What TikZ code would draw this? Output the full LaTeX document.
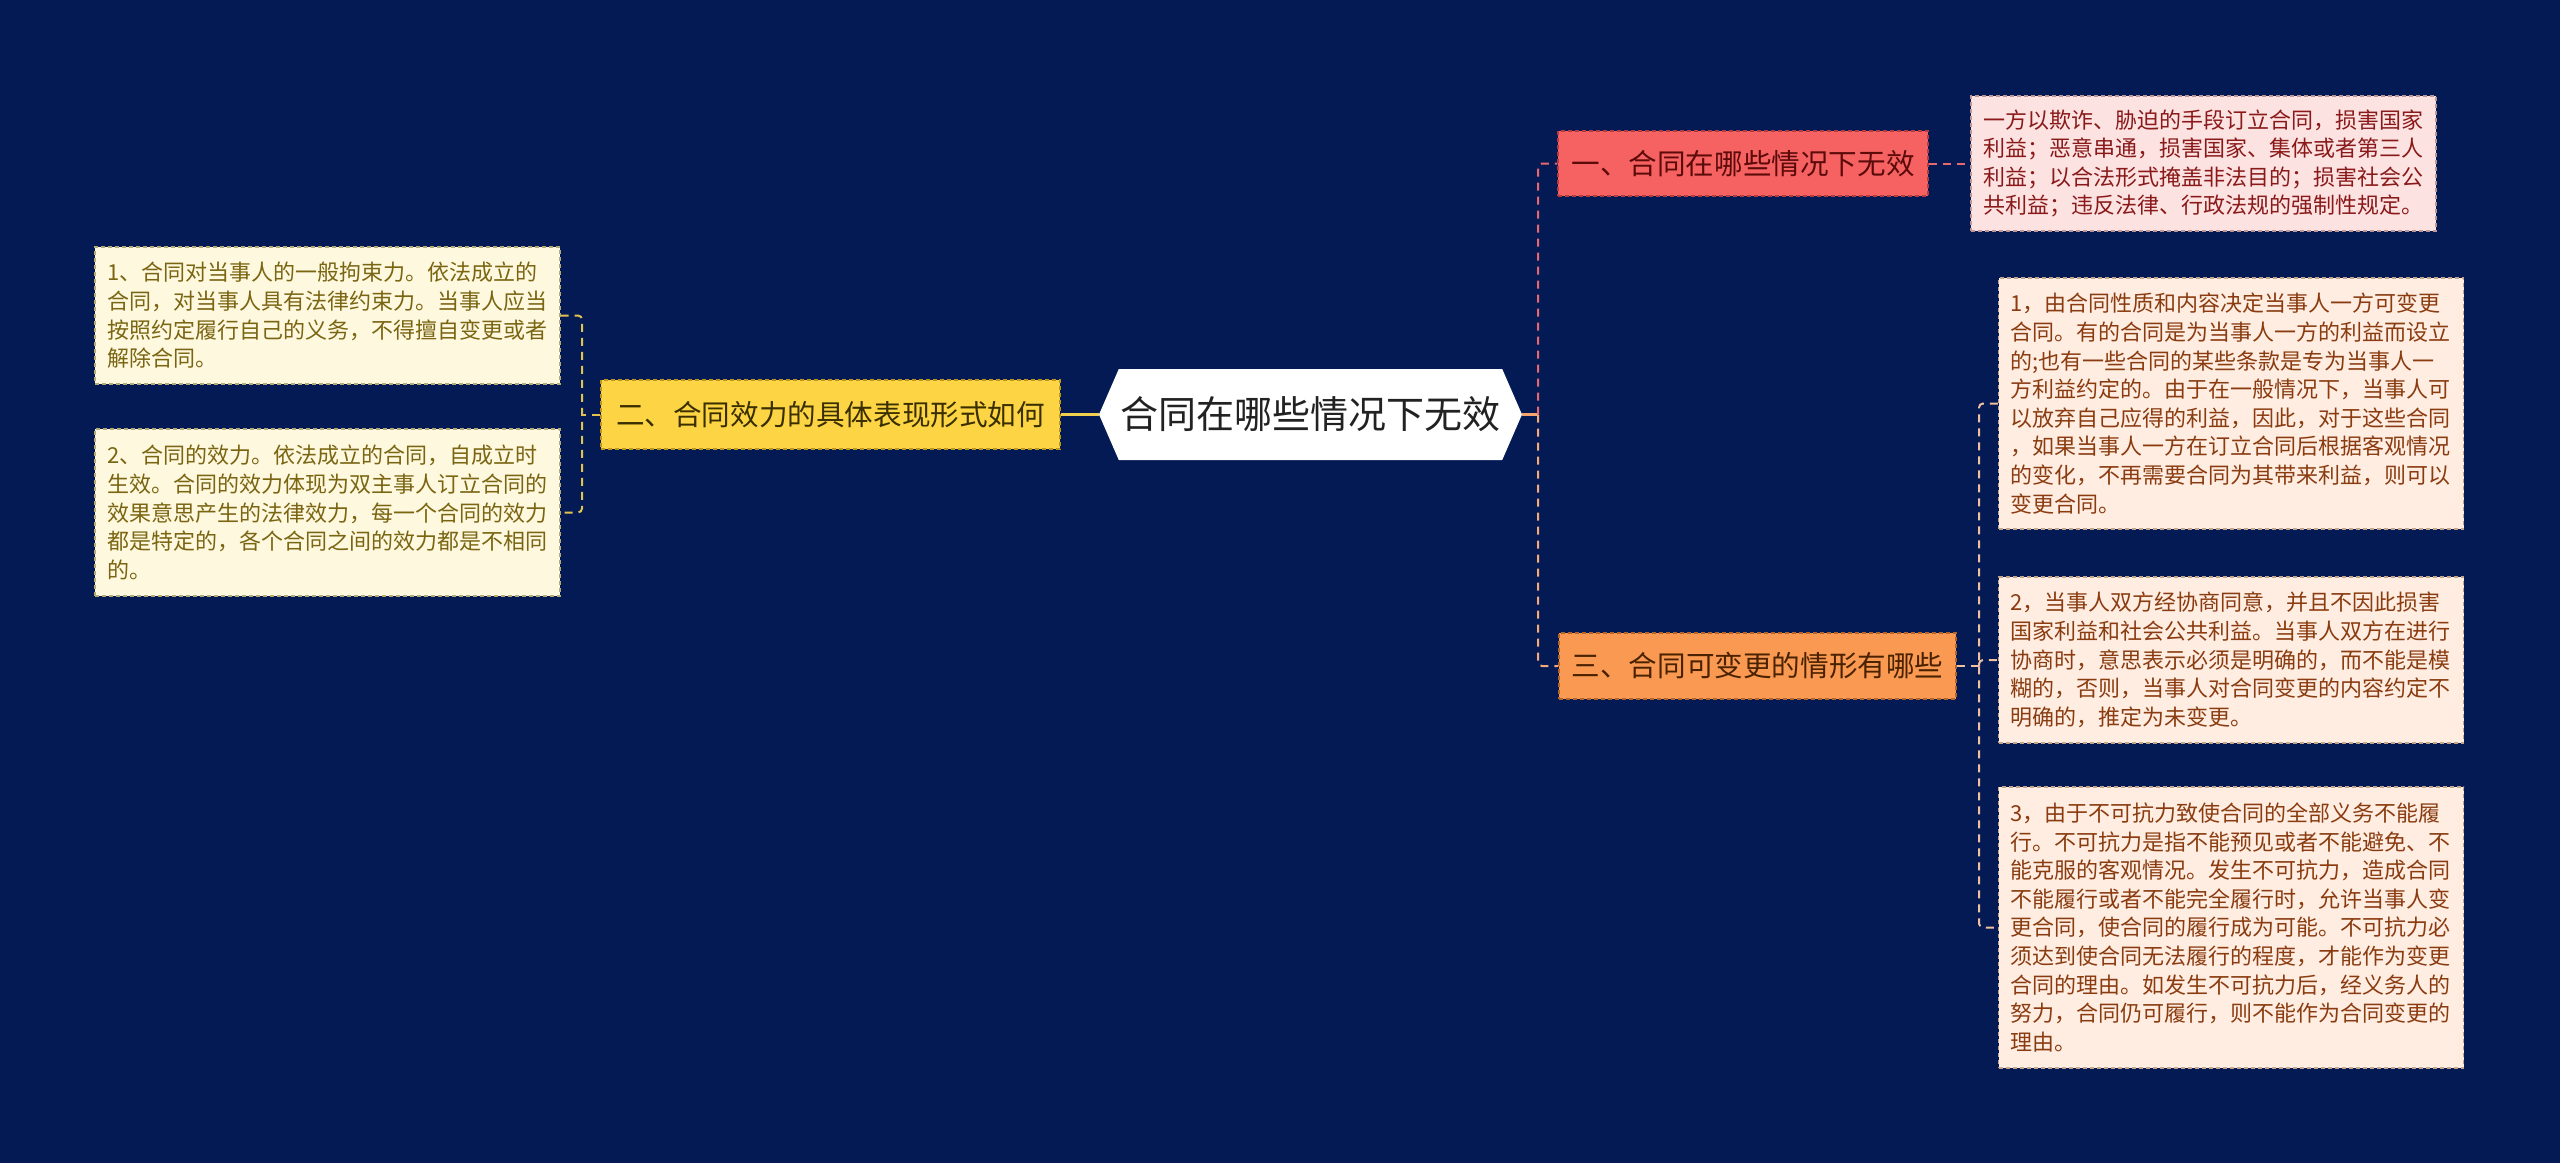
\documentclass[tikz,border=0pt]{standalone}
\usepackage{fontspec}
\setmainfont{Noto Sans CJK SC}
\usetikzlibrary{shapes.symbols}
\definecolor{bg}{RGB}{4,26,84}
\definecolor{cenText}{RGB}{34,34,34}
\definecolor{yFill}{RGB}{253,213,68}
\definecolor{yBorder}{RGB}{190,150,30}
\definecolor{yText}{RGB}{58,47,0}
\definecolor{lFill}{RGB}{254,248,222}
\definecolor{lBorder}{RGB}{180,170,120}
\definecolor{lText}{RGB}{122,101,18}
\definecolor{rFill}{RGB}{246,98,98}
\definecolor{rBorder}{RGB}{180,60,60}
\definecolor{rText}{RGB}{92,10,10}
\definecolor{prFill}{RGB}{253,226,226}
\definecolor{prBorder}{RGB}{190,150,150}
\definecolor{prText}{RGB}{138,26,26}
\definecolor{oFill}{RGB}{250,154,82}
\definecolor{oBorder}{RGB}{180,100,40}
\definecolor{oText}{RGB}{74,34,0}
\definecolor{poFill}{RGB}{255,237,226}
\definecolor{poBorder}{RGB}{195,165,140}
\definecolor{poText}{RGB}{138,60,16}
\definecolor{yLine}{RGB}{242,208,79}
\definecolor{yDash}{RGB}{226,194,80}
\definecolor{rDash}{RGB}{232,104,112}
\definecolor{oLine}{RGB}{245,164,112}
\definecolor{oDash}{RGB}{245,170,120}
\definecolor{pDash}{RGB}{240,192,160}
\tikzset{
  nodeborder/.style={dash pattern=on 2pt off 1.5pt, line width=0.6pt},
  leafbox/.style={nodeborder, align=left, text width=220.5pt, inner xsep=6pt, inner ysep=4pt,
    font=\fontsize{11pt}{14.3pt}\selectfont},
  leafL/.style={leafbox, draw=lBorder, fill=lFill, text=lText},
  leafPR/.style={leafbox, draw=prBorder, fill=prFill, text=prText},
  leafPO/.style={leafbox, draw=poBorder, fill=poFill, text=poText},
  branch/.style={nodeborder, align=center, inner sep=0pt, font=\fontsize{14.3pt}{17pt}\selectfont},
  centre/.style={signal, signal to=west and east, signal pointer angle=133, fill=white, text=cenText,
    inner sep=0pt, minimum width=211.5pt, minimum height=45.5pt, font=\fontsize{19pt}{22pt}\selectfont},
  conn/.style={line width=1pt, dash pattern=on 4pt off 3pt, rounded corners=2pt},
  solidconn/.style={line width=1.5pt},
}
\begin{document}
\begin{tikzpicture}[x=0.5pt, y=-0.5pt]
\useasboundingbox (0,0) rectangle (2560,1163);
\fill[bg] (0,0) rectangle (2560,1163);

% central
\node[centre] (C) at (1310.5,414.5) {合同在哪些情况下无效};

% branches
\node[branch, draw=yBorder, fill=yFill, text=yText, minimum width=229.5pt, minimum height=34.5pt]
  (B2) at (830.5,414.5) {二、合同效力的具体表现形式如何};
\node[branch, draw=rBorder, fill=rFill, text=rText, minimum width=185pt, minimum height=32.5pt]
  (B1) at (1743,163.5) {一、合同在哪些情况下无效};
\node[branch, draw=oBorder, fill=oFill, text=oText, minimum width=198.5pt, minimum height=33pt]
  (B3) at (1757.5,666) {三、合同可变更的情形有哪些};

% left leaves
\node[leafL, minimum height=68.5pt] (L1) at (327.5,315.5) {1、合同对当事人的一般拘束力。依法成立的\\合同，对当事人具有法律约束力。当事人应当\\按照约定履行自己的义务，不得擅自变更或者\\解除合同。};
\node[leafL, minimum height=83.5pt] (L2) at (327.5,512.5) {2、合同的效力。依法成立的合同，自成立时\\生效。合同的效力体现为双主事人订立合同的\\效果意思产生的法律效力，每一个合同的效力\\都是特定的，各个合同之间的效力都是不相同\\的。};

% right leaves
\node[leafPR, minimum height=67.5pt] (R1) at (2203.5,163.5) {一方以欺诈、胁迫的手段订立合同，损害国家\\利益；恶意串通，损害国家、集体或者第三人\\利益；以合法形式掩盖非法目的；损害社会公\\共利益；违反法律、行政法规的强制性规定。};
\node[leafPO, minimum height=125.5pt] (Ra) at (2231,403.5) {1，由合同性质和内容决定当事人一方可变更\\合同。有的合同是为当事人一方的利益而设立\\的;也有一些合同的某些条款是专为当事人一\\方利益约定的。由于在一般情况下，当事人可\\以放弃自己应得的利益，因此，对于这些合同\\，如果当事人一方在订立合同后根据客观情况\\的变化，不再需要合同为其带来利益，则可以\\变更合同。};
\node[leafPO, minimum height=83pt] (Rb) at (2231,660) {2，当事人双方经协商同意，并且不因此损害\\国家利益和社会公共利益。当事人双方在进行\\协商时，意思表示必须是明确的，而不能是模\\糊的，否则，当事人对合同变更的内容约定不\\明确的，推定为未变更。};
\node[leafPO, minimum height=140.5pt] (Rc) at (2231,927.5) {3，由于不可抗力致使合同的全部义务不能履\\行。不可抗力是指不能预见或者不能避免、不\\能克服的客观情况。发生不可抗力，造成合同\\不能履行或者不能完全履行时，允许当事人变\\更合同，使合同的履行成为可能。不可抗力必\\须达到使合同无法履行的程度，才能作为变更\\合同的理由。如发生不可抗力后，经义务人的\\努力，合同仍可履行，则不能作为合同变更的\\理由。};

% junctions
\coordinate (JL) at (582,414.5);
\coordinate (JR) at (1538,414.5);
\coordinate (J3) at (1979,666);

% connectors
\draw[solidconn, yLine] (C.west) -- (B2.east);
\draw[conn, yDash] (B2.west) -- (JL);
\draw[conn, yDash] (L1.east) -| (JL) |- (L2.east);

\draw[solidconn, oLine] (C.east) -- (JR);
\draw[conn, rDash] (JR) |- (B1.west);
\draw[conn, oDash] (JR) |- (B3.west);

\draw[conn, rDash] (B1.east) -- (R1.west);

\draw[conn, pDash] (B3.east) -- (J3);
\draw[conn, pDash] (Ra.west) -| (J3) |- (Rc.west);
\draw[conn, pDash] (J3) |- (Rb.west);
\end{tikzpicture}
\end{document}
